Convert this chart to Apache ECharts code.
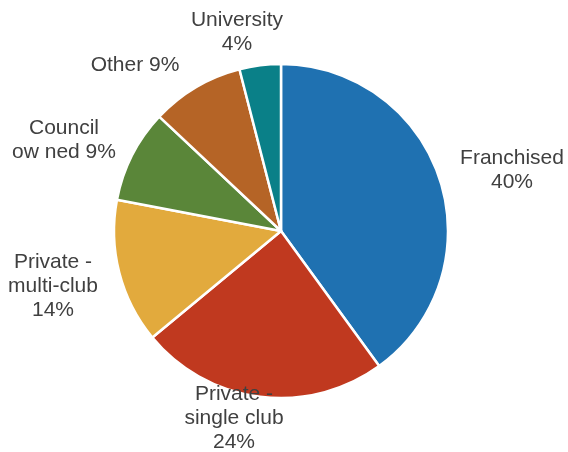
<!DOCTYPE html>
<html>
<head>
<meta charset="utf-8">
<script src="https://cdn.jsdelivr.net/npm/echarts@6/dist/echarts.min.js"></script>
<style>
  html, body { margin: 0; padding: 0; background: #ffffff; }
  #chart { width: 568px; height: 452px; }
</style>
</head>
<body>
<div id="chart"></div>
<script>
// Data
const categories = ['Franchised', 'Private -\nsingle club', 'Private -\nmulti-club', 'Council\now ned', 'Other', 'University'];
const values = [40, 24, 14, 9, 9, 4];
const labelJoiners = ['\n', '\n', '\n', ' ', ' ', '\n'];
const colors = ['#1f71b1', '#c0391f', '#e2aa3d', '#5a8639', '#b56426', '#0a8088'];

// Label centre positions (text placement only)
const labelPos = [
  [512, 170],
  [234, 418],
  [53, 286],
  [64, 140],
  [135, 65],
  [237, 32]
];

const chart = echarts.init(document.getElementById('chart'), null, { renderer: 'canvas' });
chart.setOption({
  backgroundColor: '#ffffff',
  animation: false,
  series: [{
    type: 'pie',
    center: [281, 231],
    radius: 167,
    startAngle: 90,
    clockwise: true,
    avoidLabelOverlap: false,
    data: categories.map((c, i) => ({
      name: c,
      value: values[i],
      itemStyle: { color: colors[i] }
    })),
    itemStyle: { borderColor: '#ffffff', borderWidth: 2.5 },
    label: {
      show: true,
      position: 'outside',
      fontFamily: 'Liberation Sans, Arial, sans-serif',
      fontSize: 21,
      lineHeight: 24,
      color: '#404040',
      align: 'center',
      formatter: (p) => p.name + labelJoiners[p.dataIndex] + p.value + '%'
    },
    labelLine: { show: false },
    labelLayout: (params) => ({
      x: labelPos[params.dataIndex][0],
      y: labelPos[params.dataIndex][1],
      align: 'center',
      verticalAlign: 'middle'
    }),
    emphasis: { disabled: true }
  }]
});
</script>
</body>
</html>
